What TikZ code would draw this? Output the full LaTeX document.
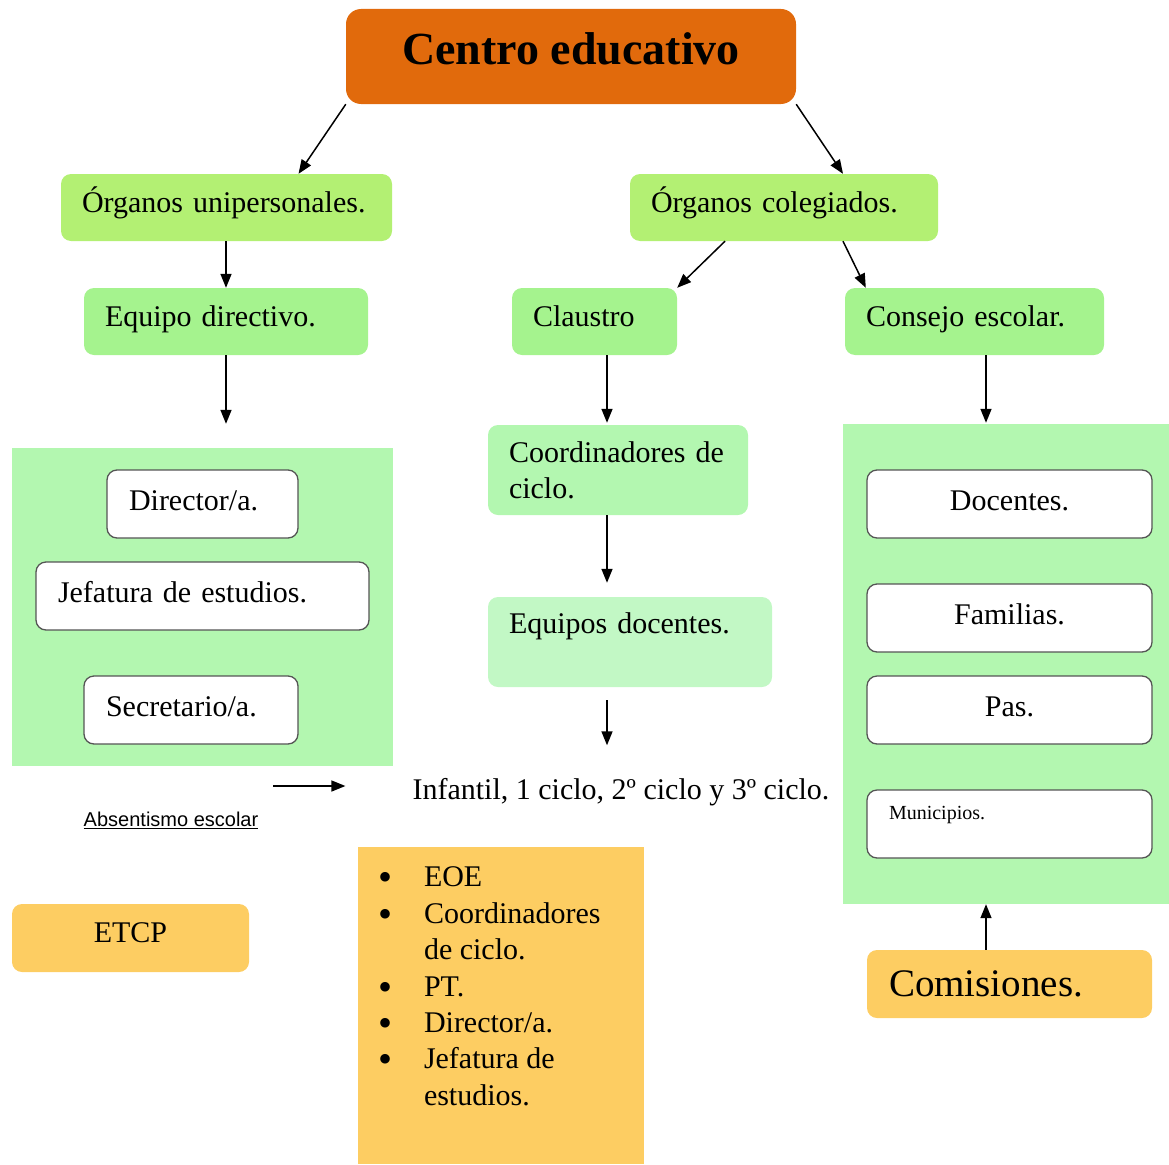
\documentclass[tikz,border=0pt]{standalone}
\usepackage{fontspec}
\setmainfont{Liberation Serif}
\setsansfont{Liberation Sans}
\usetikzlibrary{arrows.meta,calc,positioning}
\definecolor{CentroOrange}{HTML}{E16A0C}
\definecolor{OrganoGreen}{HTML}{B3F073}
\definecolor{UnitGreen}{HTML}{A5F38E}
\definecolor{PanelGreen}{HTML}{B3F7B0}
\definecolor{SoftGreen}{HTML}{C2F8C5}
\definecolor{NoteYellow}{HTML}{FDCD62}
\definecolor{Edge}{HTML}{555555}
\newcommand{\bodysize}{\fontsize{30}{36}\selectfont}
\newcommand{\itembullet}{\makebox[46pt][l]{\raisebox{-4pt}{\fontsize{40}{36}\selectfont\textbullet}}}

\begin{document}
\begin{tikzpicture}[
    x=1pt, y=-1pt,
    font=\bodysize,
    arr/.style={-{Triangle[length=14pt,width=11pt]}, line width=1.5pt},
    oneline/.style={text height=20pt, text depth=10pt},
    greenbox/.style={
        rounded corners=10pt,
        minimum height=67pt,
        inner xsep=21pt,
        inner ysep=0pt,
        align=left,
        draw=none
    },
    whitebox/.style={
        rounded corners=10pt,
        minimum width=285pt,
        minimum height=68pt,
        inner xsep=22pt,
        inner ysep=0pt,
        text height=20pt,
        text depth=8pt,
        fill=white,
        draw=Edge,
        line width=1.3pt
    },
    panel/.style={fill=PanelGreen, draw=none, inner sep=0pt},
    note/.style={fill=NoteYellow, draw=none, rounded corners=10pt, inner sep=0pt}
]
\useasboundingbox (0,0) rectangle (1169,1164);

% Heading box
\node[fill=CentroOrange, rounded corners=15pt, minimum width=450pt, minimum height=95pt,
      inner sep=0pt, text height=31pt, text depth=16pt,
      font=\fontsize{46}{52}\selectfont\bfseries] (centro) at (571,56.5) {Centro educativo};

% Governing bodies
\node[greenbox, oneline, fill=OrganoGreen, minimum width=331pt, text width=289pt] (unip) at (226.5,207.5)
    {Órganos unipersonales.};
\node[greenbox, oneline, fill=OrganoGreen, minimum width=308pt, text width=266pt] (coleg) at (784,207.5)
    {Órganos colegiados.};

\node[greenbox, oneline, fill=UnitGreen, minimum width=284pt, text width=242pt] (eqdir) at (226,321.5)
    {Equipo directivo.};
\node[greenbox, oneline, fill=UnitGreen, minimum width=165pt, text width=123pt] (claustro) at (594.5,321.5)
    {Claustro};
\node[greenbox, oneline, fill=UnitGreen, minimum width=259pt, text width=217pt] (consejo) at (974.5,321.5)
    {Consejo escolar.};

\draw[arr] (centro.south west) -- ([xshift=72pt]unip.north);
\draw[arr] (centro.south east) -- ([xshift=59pt]coleg.north);
\draw[arr] (eqdir.north |- unip.south) -- (eqdir.north);
\draw[arr] ([xshift=-59pt]coleg.south) -- (claustro.north east);
\draw[arr] ([xshift=59pt]coleg.south) -- ([xshift=21pt]consejo.north west);

% Equipo directivo members
\node[panel, minimum width=381pt, minimum height=318pt] (leftpanel) at (202.5,607) {};
\node[whitebox, minimum width=191pt, text width=147pt, align=left] (director) at (202.5,504)
    {Director/a.};
\node[whitebox, minimum width=333pt, text width=289pt, align=left] (jefatura) at (202.5,596)
    {Jefatura de estudios.};
\node[whitebox, minimum width=214pt, text width=170pt, align=left] (secretario) at (191,710)
    {Secretario/a.};
\draw[arr, shorten >=24pt] (eqdir.south) -- (eqdir.south |- leftpanel.north);

% Claustro chain
\node[greenbox, fill=PanelGreen, minimum width=260pt, minimum height=90pt, text width=218pt] (coord)
    at (618,470) {Coordinadores de\\ciclo.};
\node[greenbox, fill=SoftGreen, minimum width=284pt, minimum height=90pt, text width=242pt] (equipos)
    at (630,642) {Equipos docentes.\\[2pt]\mbox{}};
\node[inner sep=0pt, text height=20pt, text depth=7pt] (infantil) at (621,793)
    {Infantil, 1 ciclo, 2º ciclo y 3º ciclo.};
\draw[arr, shorten >=2pt] ([xshift=12.5pt]claustro.south) -- ([xshift=12.5pt]claustro.south |- coord.north);
\draw[arr, shorten >=14pt] ([xshift=-11pt]coord.south) -- ([xshift=-11pt]coord.south |- equipos.north);
\draw[arr, shorten <=13pt, shorten >=34pt] ([xshift=-23pt]equipos.south) -- ([xshift=-23pt]equipos.south |- infantil.north);

% Consejo escolar members
\node[panel, minimum width=326pt, minimum height=480pt] (rightpanel) at (1006,664) {};
\node[whitebox, align=center] (docentes) at (1009.5,504) {Docentes.};
\node[whitebox, align=center] (familias) at (1009.5,618) {Familias.};
\node[whitebox, align=center] (pas) at (1009.5,710) {Pas.};
\node[whitebox, text height=, text depth=, text width=241pt, align=left,
      font=\fontsize{20}{24}\selectfont] (muni) at (1009.5,824)
    {Municipios.\\[-2pt]\mbox{}};
\draw[arr, shorten >=1pt] ([xshift=11.5pt]consejo.south) -- ([xshift=11.5pt]consejo.south |- rightpanel.north);

\node[note, minimum width=285pt, minimum height=68pt, inner xsep=22pt, text width=241pt, align=left,
      font=\fontsize{39}{44}\selectfont] (comisiones) at (1009.5,984) {Comisiones.};
\draw[arr] ([xshift=-23.5pt]comisiones.north) -- ([xshift=-23.5pt]comisiones.north |- rightpanel.south);

% Lower left notes
\coordinate (abstail) at (273,786);
\draw[arr, shorten >=67pt] (abstail) -- (abstail -| infantil.west);
\node[font=\sffamily\fontsize{20}{24}\selectfont] (absent) at (171,820) {\underline{Absentismo\ escolar}};
\node[note, minimum width=237pt, minimum height=68pt, text height=20pt, text depth=12pt] (etcp)
    at (130.5,938) {ETCP};

% ETCP members
\node[fill=NoteYellow, minimum width=286pt, minimum height=317pt] (members) at (501,1005.5) {};
\node[anchor=north west, align=left, inner sep=0pt, font=\fontsize{30}{36.4}\selectfont] (memberlist)
    at ([xshift=20pt,yshift=-20pt]members.north west)
    {\itembullet EOE\\
     \itembullet Coordinadores\\
     \hspace*{46pt}de ciclo.\\
     \itembullet PT.\\
     \itembullet Director/a.\\
     \itembullet Jefatura de\\
     \hspace*{46pt}estudios.};

\end{tikzpicture}
\end{document}
